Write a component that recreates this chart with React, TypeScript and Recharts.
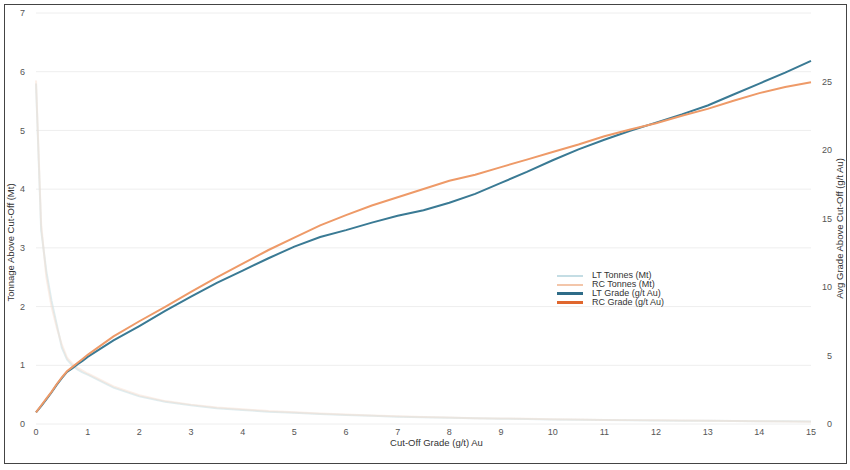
import { CartesianGrid, Legend, Line, LineChart, XAxis, YAxis } from 'recharts';

const cutOff = [
  0, 0.1, 0.2, 0.3, 0.4, 0.5, 0.6, 0.7, 0.8, 0.9, 1, 1.5, 2, 2.5, 3, 3.5, 4, 4.5, 5, 5.5, 6, 6.5, 7, 7.5, 8,
  8.5, 9, 9.5, 10, 10.5, 11, 11.5, 12, 12.5, 13, 13.5, 14, 14.5, 15,
];

const ltTonnes = [
  5.8, 3.3, 2.6, 2.1, 1.7, 1.3, 1.1, 1.0, 0.93, 0.88, 0.84, 0.62, 0.47, 0.38, 0.32, 0.27, 0.24, 0.21, 0.19,
  0.17, 0.155, 0.14, 0.125, 0.115, 0.105, 0.097, 0.09, 0.084, 0.078, 0.073, 0.068, 0.064, 0.06, 0.057, 0.054,
  0.051, 0.048, 0.045, 0.043,
];

const rcTonnes = [
  5.85, 3.4, 2.5, 2.0, 1.65, 1.35, 1.13, 1.03, 0.96, 0.91, 0.86, 0.64, 0.49, 0.39, 0.33, 0.28, 0.25, 0.22, 0.2,
  0.18, 0.16, 0.145, 0.13, 0.12, 0.11, 0.1, 0.095, 0.088, 0.082, 0.076, 0.07, 0.066, 0.062, 0.058, 0.054, 0.05,
  0.047, 0.044, 0.04,
];

const ltGrade = [
  0.85, 1.3, 1.8, 2.3, 2.85, 3.35, 3.8, 4.05, 4.35, 4.6, 4.9, 6.1, 7.15, 8.25, 9.3, 10.3, 11.2, 12.1, 12.95,
  13.65, 14.15, 14.7, 15.2, 15.6, 16.15, 16.8, 17.6, 18.4, 19.25, 20.05, 20.75, 21.4, 22.0, 22.6, 23.25, 24.05,
  24.85, 25.65, 26.5,
];

const rcGrade = [
  0.85, 1.35, 1.85, 2.35, 2.9, 3.4, 3.85, 4.15, 4.45, 4.75, 5.05, 6.4, 7.5, 8.55, 9.65, 10.7, 11.7, 12.7, 13.6,
  14.5, 15.25, 15.95, 16.55, 17.15, 17.75, 18.2, 18.75, 19.3, 19.85, 20.4, 21.0, 21.5, 21.95, 22.5, 23.0, 23.6,
  24.15, 24.6, 24.95,
];

const xTicks = [0, 1, 2, 3, 4, 5, 6, 7, 8, 9, 10, 11, 12, 13, 14, 15];
const tonnageTicks = [0, 1, 2, 3, 4, 5, 6, 7];
const gradeTicks = [0, 5, 10, 15, 20, 25];

const legendItems = [
  { label: 'LT Tonnes (Mt)', color: '#c4dde4', width: 2 },
  { label: 'RC Tonnes (Mt)', color: '#f3c6aa', width: 2 },
  { label: 'LT Grade (g/t Au)', color: '#2f6c88', width: 3 },
  { label: 'RC Grade (g/t Au)', color: '#e0672e', width: 3 },
];

const data = cutOff.map((x, i) => ({
  x,
  ltTonnes: ltTonnes[i],
  rcTonnes: rcTonnes[i],
  ltGrade: ltGrade[i],
  rcGrade: rcGrade[i],
}));

const FONT = '"Liberation Sans", Arial, sans-serif';
const tickStyle = { fill: '#555', fontSize: 9, fontFamily: FONT };
const titleStyle = { fill: '#333', fontSize: 9.5, fontFamily: FONT };

function ChartLegend() {
  return (
    <div style={{ fontFamily: FONT, fontSize: 9, color: '#333', lineHeight: '9px' }}>
      {legendItems.map((item) => (
        <div key={item.label} style={{ display: 'flex', alignItems: 'center', height: 9 }}>
          <span
            style={{
              display: 'inline-block',
              width: 26,
              height: item.width,
              background: item.color,
              marginRight: 9,
            }}
          />
          <span>{item.label}</span>
        </div>
      ))}
    </div>
  );
}

export default function App() {
  return (
    <div style={{ position: 'absolute', left: 0, top: 0, width: 850, height: 470, background: '#fff' }}>
      <div
        style={{
          position: 'absolute',
          left: 4,
          top: 4,
          width: 841,
          height: 458,
          border: '1px solid #444',
        }}
      />
      <div style={{ position: 'absolute', left: 0, top: 0 }}>
        <LineChart
          width={850}
          height={470}
          data={data}
          margin={{ top: 13, right: 9, left: 8, bottom: 16 }}
        >
          <CartesianGrid yAxisId="tonnes" stroke="#eeeeee" vertical={false} />
          <XAxis
            dataKey="x"
            type="number"
            domain={[0, 15]}
            ticks={xTicks}
            tick={tickStyle}
            tickLine={false}
            axisLine={false}
            tickSize={0}
            tickMargin={5}
            height={30}
            label={{
              value: 'Cut-Off Grade (g/t) Au',
              position: 'insideBottom',
              offset: 0,
              dx: 13,
              dy: -8,
              style: titleStyle,
            }}
          />
          <YAxis
            yAxisId="tonnes"
            domain={[0, 7]}
            ticks={tonnageTicks}
            tick={tickStyle}
            tickLine={false}
            axisLine={false}
            tickSize={6}
            tickMargin={5}
            width={28}
            label={{
              value: 'Tonnage Above Cut-Off (Mt)',
              angle: -90,
              position: 'center',
              dx: -11.5,
              dy: 24,
              style: titleStyle,
            }}
          />
          <YAxis
            yAxisId="grade"
            orientation="right"
            domain={[0, 30]}
            ticks={gradeTicks}
            tick={{ ...tickStyle, textAnchor: 'end' }}
            tickLine={false}
            axisLine={false}
            tickSize={6}
            tickMargin={15}
            width={30}
            label={{
              value: 'Avg Grade Above Cut-Off (g/t Au)',
              angle: -90,
              position: 'center',
              dx: 14,
              dy: 10,
              style: titleStyle,
            }}
          />
          <Legend
            layout="vertical"
            align="center"
            verticalAlign="middle"
            content={<ChartLegend />}
            wrapperStyle={{ left: 557, top: 271, width: 130 }}
          />
          <Line
            yAxisId="tonnes"
            dataKey="ltTonnes"
            name="LT Tonnes (Mt)"
            type="linear"
            stroke="#d2e5ea"
            strokeOpacity={0.7}
            strokeWidth={2}
            dot={false}
            isAnimationActive={false}
          />
          <Line
            yAxisId="tonnes"
            dataKey="rcTonnes"
            name="RC Tonnes (Mt)"
            type="linear"
            stroke="#f7dccb"
            strokeOpacity={0.45}
            strokeWidth={2}
            dot={false}
            isAnimationActive={false}
          />
          <Line
            yAxisId="grade"
            dataKey="ltGrade"
            name="LT Grade (g/t Au)"
            type="linear"
            stroke="#3a7a94"
            strokeWidth={2}
            dot={false}
            isAnimationActive={false}
          />
          <Line
            yAxisId="grade"
            dataKey="rcGrade"
            name="RC Grade (g/t Au)"
            type="linear"
            stroke="#ee9a68"
            strokeWidth={2}
            dot={false}
            isAnimationActive={false}
          />
        </LineChart>
      </div>
    </div>
  );
}
